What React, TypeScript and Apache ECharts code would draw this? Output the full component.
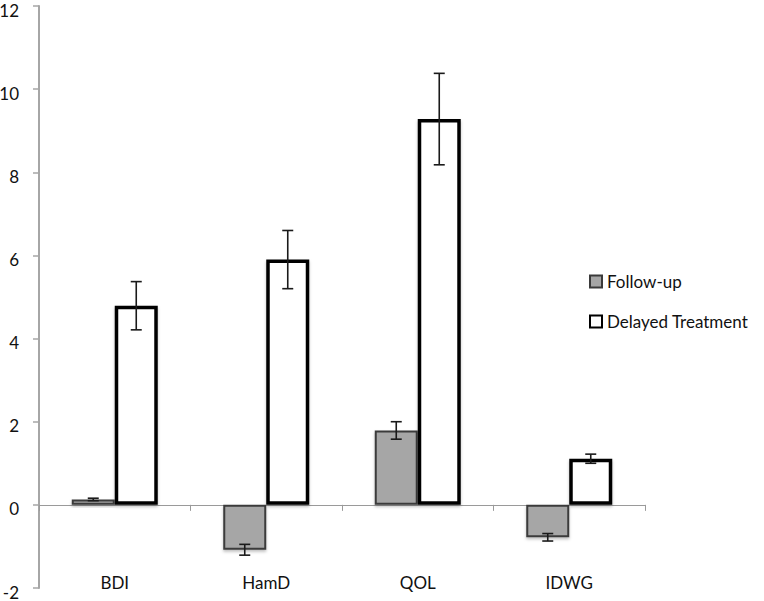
import React, { useEffect, useRef } from "react";
import * as echarts from "echarts";

const categories = ["BDI", "HamD", "QOL", "IDWG"];
const followUp = [0.13, -1.08, 1.79, -0.78];
const followUpErr = [0.03, 0.13, 0.21, 0.09];
const delayed = [4.79, 5.9, 9.28, 1.11];
const delayedErr = [0.58, 0.7, 1.1, 0.11];
const yTicks = { min: -2, max: 12, interval: 2 };

const BAR_W = 43;

export default function App() {
  const ref = useRef<HTMLDivElement>(null);
  useEffect(() => {
    document.body.style.margin = "0";
    const chart = echarts.init(ref.current!, null, { renderer: "svg" });
    const font = "Lato, 'Open Sans', sans-serif";
    const errSeries = (name: string, vals: number[], errs: number[], offset: number) => ({
      type: "custom",
      name,
      z: 10,
      silent: true,
      data: vals.map((v, i) => [i, v - errs[i], v + errs[i]]),
      renderItem: (params: any, api: any) => {
        const lo = api.coord([api.value(0), api.value(1)]);
        const hi = api.coord([api.value(0), api.value(2)]);
        const x = lo[0] + offset;
        const cap = 5.5;
        const style = { stroke: "#1a1a1a", lineWidth: 1.6 };
        return {
          type: "group",
          children: [
            { type: "line", shape: { x1: x, y1: lo[1], x2: x, y2: hi[1] }, style },
            { type: "line", shape: { x1: x - cap, y1: lo[1], x2: x + cap, y2: lo[1] }, style },
            { type: "line", shape: { x1: x - cap, y1: hi[1], x2: x + cap, y2: hi[1] }, style },
          ],
        };
      },
    });
    chart.setOption({
      animation: false,
      textStyle: { fontFamily: font },
      grid: { left: 39, right: 119, top: 6, bottom: 13, containLabel: false, outerBoundsMode: "none" },
      legend: {
        data: ["Follow-up", "Delayed Treatment"],
        orient: "vertical",
        left: 589,
        top: 273,
        padding: 0,
        itemWidth: 12,
        itemHeight: 12,
        itemGap: 23,
        icon: "rect",
        textStyle: { fontSize: 17, color: "#111", fontFamily: font },
      },
      xAxis: [
        {
          type: "category",
          data: categories,
          axisLine: { onZero: true, lineStyle: { color: "#9a9a9a", width: 1.2 } },
          axisTick: { show: true, length: 6, lineStyle: { color: "#9a9a9a" } },
          axisLabel: { show: false },
        },
        {
          type: "category",
          data: categories,
          position: "bottom",
          axisLine: { show: false, onZero: false },
          axisTick: { show: false },
          axisLabel: {
            show: true,
            inside: true,
            margin: -3,
            fontSize: 17,
            color: "#111",
            fontFamily: font,
          },
        },
      ],
      yAxis: {
        type: "value",
        min: yTicks.min,
        max: yTicks.max,
        interval: yTicks.interval,
        splitLine: { show: false },
        axisLine: { show: true, lineStyle: { color: "#a6a6a6", width: 2 } },
        axisTick: { show: true, length: 6, lineStyle: { color: "#a6a6a6", width: 1.5 } },
        axisLabel: {
          margin: 20,
          fontSize: 17,
          color: "#111",
          fontFamily: font,
          verticalAlign: "top",
          lineHeight: 8,
        },
      },
      series: [
        {
          name: "Follow-up",
          type: "bar",
          data: followUp,
          barWidth: BAR_W,
          barGap: "0%",
          itemStyle: {
            color: "#a6a6a6",
            borderColor: "#3a3a3a",
            borderWidth: 2,
            shadowBlur: 3,
            shadowColor: "rgba(0,0,0,0.25)",
            shadowOffsetY: 2,
          },
        },
        {
          name: "Delayed Treatment",
          type: "bar",
          data: delayed,
          barWidth: BAR_W,
          barGap: "0%",
          itemStyle: {
            color: "#ffffff",
            borderColor: "#000000",
            borderWidth: 3.5,
            shadowBlur: 3,
            shadowColor: "rgba(0,0,0,0.25)",
            shadowOffsetY: 2,
          },
        },
        errSeries("errF", followUp, followUpErr, -BAR_W / 2),
        errSeries("errD", delayed, delayedErr, BAR_W / 2),
      ],
    });
    return () => chart.dispose();
  }, []);
  return <div ref={ref} style={{ width: 764, height: 601 }} />;
}
